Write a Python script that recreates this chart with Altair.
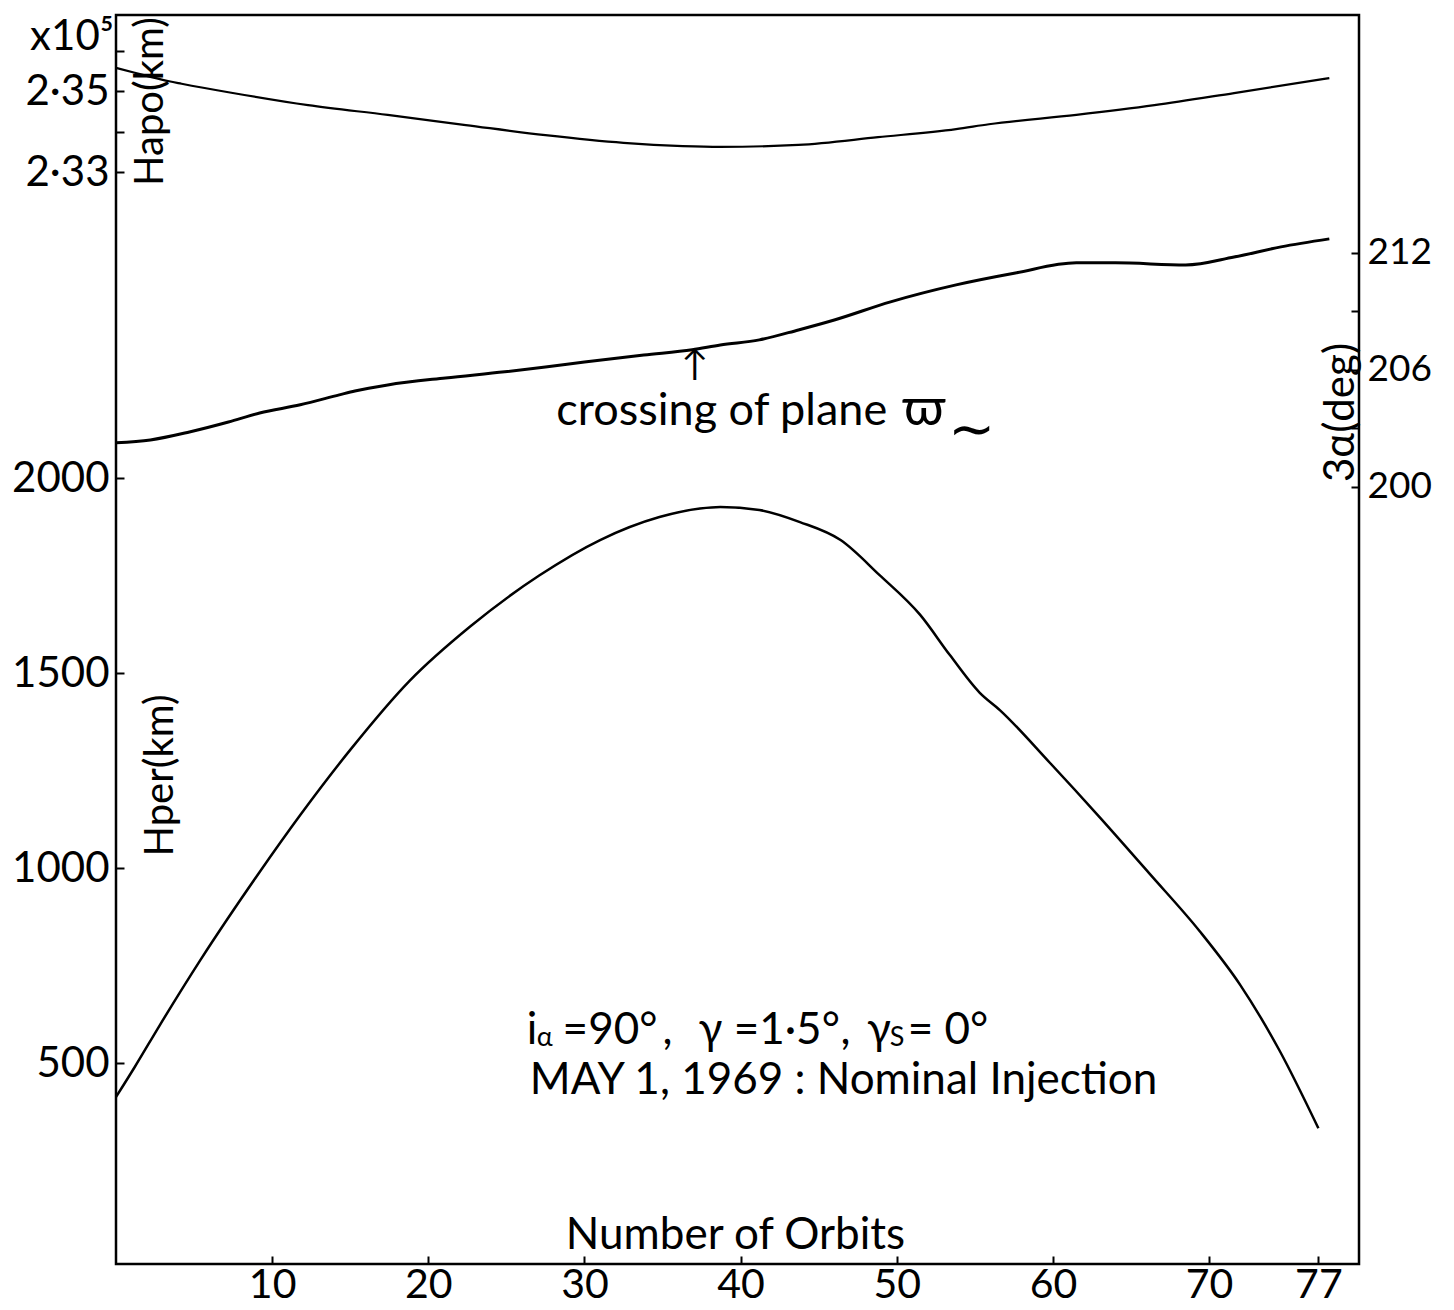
import altair as alt
import pandas as pd

# ---------------- data ----------------
orbits_apo = [0, 1.2, 2.2, 3.4, 4.2, 7.2, 12.3, 17.4, 22.4, 27.5, 32.5, 36.3, 38.7,
              43.7, 48.8, 53.8, 55.9, 61.5, 66.5, 71.6, 77.7]
h_apo = [2.3557, 2.3545, 2.3535, 2.3524, 2.3518, 2.3497, 2.3465, 2.3441, 2.3416,
         2.3391, 2.3372, 2.3364, 2.3362, 2.3367, 2.3386, 2.3406, 2.3418, 2.3441,
         2.3465, 2.3495, 2.3532]

orbits_alpha = [0, 2.2, 4.7, 7.2, 9.2, 11.8, 14.3, 15.3, 17.4, 21.1, 24.9, 27.5, 30.0,
                33.8, 36.9, 38.7, 41.2, 43.7, 46.0, 49.6, 53.8, 57.6, 61.5, 64.0,
                68.5, 71.6, 74.6, 77.7]
alpha_deg = [202.26, 202.41, 202.82, 203.33, 203.79, 204.21, 204.72, 204.92, 205.23,
             205.59, 205.90, 206.15, 206.41, 206.77, 207.03, 207.28, 207.54, 208.05,
             208.56, 209.49, 210.36, 210.97, 211.49, 211.49, 211.38, 211.79, 212.31,
             212.72]

orbits_per = [0, 1.2, 2.8, 5.4, 9.2, 11.8, 15.0, 18.8, 22.7, 27.1, 31.0, 34.8, 37.4,
              38.7, 41.2, 43.8, 46.4, 48.9, 51.5, 53.4, 55.3, 56.6, 59.8, 63.0, 66.2,
              69.4, 72.0, 74.5, 77.0]
h_per = [413, 490, 597, 764, 990, 1136, 1303, 1480, 1620, 1750, 1841, 1900, 1922,
         1926, 1918, 1887, 1841, 1751, 1649, 1546, 1450, 1405, 1270, 1130, 985, 838,
         700, 533, 333]

x_ticks = [10, 20, 30, 40, 50, 60, 70, 77]
per_ticks = [500, 1000, 1500, 2000]
apo_ticks = [2.33, 2.34, 2.35, 2.36]
alpha_ticks = [200, 203, 206, 209, 212]

# annotations (text, orbit, km position on the H_per scale, font size)
ann_text = ["x10⁵", "↑", "crossing of plane", "ϖ", "∼",
            "i", "α", "=90°", ",", "γ =1·5°", ",", "γ", "S", "= 0°",
            "MAY 1, 1969 : Nominal Injection"]
ann_orbit = [-5.5, 36.2, 28.2, 50.3, 53.3,
             26.3, 26.95, 28.6, 35.0, 37.3, 46.4, 48.1, 49.55, 50.7,
             26.5]
ann_km = [3097, 2262, 2136, 2136, 2078,
          550, 544, 550, 550, 550, 550, 550, 544, 550,
          422]
ann_size = [42, 36, 45, 52, 56,
            44, 27, 44, 44, 44, 44, 44, 27, 44,
            44]

# ---------------- chart ----------------
W, H = 1243, 1249
FONT = "Lato, DejaVu Sans"
X_DOM = [0, 79.6]
PER_DOM = [-15, 3187]
APO_DOM = [2.06037, 2.36877]
ALPHA_DOM = [160.15, 224.2]

df_apo = pd.DataFrame({"orbit": orbits_apo, "hapo": h_apo})
df_alpha = pd.DataFrame({"orbit": orbits_alpha, "alpha": alpha_deg})
df_per = pd.DataFrame({"orbit": orbits_per, "hper": h_per})
df_ann = pd.DataFrame({"text": ann_text, "orbit": ann_orbit, "km": ann_km, "fs": ann_size})

common_axis = dict(offset=-8, tickSize=8, tickWidth=2, tickColor="black", domain=False,
                   grid=False, labelFont=FONT, labelColor="black",
                   titleFont=FONT, titleFontSize=40, titleFontWeight="normal",
                   titleColor="black")

x_axis = alt.Axis(orient="bottom", values=x_ticks, labelPadding=1, labelFontSize=41,
                  title="Number of Orbits", titleX=619, titleY=-8,
                  titleAlign="center", titleBaseline="alphabetic",
                  **{**common_axis, "titleFontSize": 44})
x_enc = alt.X("orbit:Q", scale=alt.Scale(domain=X_DOM, nice=False, zero=False),
              axis=x_axis)

per_line = alt.Chart(df_per).mark_line(color="black", strokeWidth=2.5,
                                       interpolate="monotone").encode(
    x=x_enc,
    y=alt.Y("hper:Q", scale=alt.Scale(domain=PER_DOM, nice=False, zero=False),
            axis=alt.Axis(orient="left", values=per_ticks, format="d", labelPadding=7,
                          labelFontSize=42,
                          title="Hper(km)", titleAngle=270, titleX=36, titleY=760,
                          titleAlign="center", titleBaseline="middle", **common_axis)),
)

apo_line = alt.Chart(df_apo).mark_line(color="black", strokeWidth=2.2,
                                       interpolate="monotone").encode(
    x=x_enc,
    y=alt.Y("hapo:Q", scale=alt.Scale(domain=APO_DOM, nice=False, zero=False),
            axis=alt.Axis(orient="left", values=apo_ticks, labelPadding=7,
                          labelFontSize=42,
                          labelExpr="round(datum.value*100)==233 ? '2·33' : (round(datum.value*100)==235 ? '2·35' : '')",
                          title="Hapo(km)", titleAngle=270, titleX=26, titleY=86,
                          titleAlign="center", titleBaseline="middle", **common_axis)),
)

alpha_line = alt.Chart(df_alpha).mark_line(color="black", strokeWidth=3,
                                           interpolate="monotone").encode(
    x=x_enc,
    y=alt.Y("alpha:Q", scale=alt.Scale(domain=ALPHA_DOM, nice=False, zero=False),
            axis=alt.Axis(orient="right", values=alpha_ticks, labelPadding=8,
                          labelFontSize=37,
                          labelExpr="(datum.value==200 || datum.value==206 || datum.value==212) ? datum.label : ''",
                          title="3α(deg)", titleAngle=270, titleX=-11, titleY=397,
                          titleAlign="center", titleBaseline="middle",
                          **{**common_axis, "titleFontSize": 42})),
)

ann = alt.Chart(df_ann).mark_text(align="left", baseline="alphabetic", font=FONT,
                                  color="black").encode(
    x=x_enc,
    y=alt.Y("km:Q", scale=alt.Scale(domain=PER_DOM, nice=False, zero=False), axis=None),
    text="text:N",
    size=alt.Size("fs:Q", scale=None, legend=None),
)

chart = alt.layer(per_line, apo_line, alpha_line, ann).resolve_scale(
    y="independent"
).properties(
    width=W, height=H,
    autosize=alt.AutoSizeParams(type="none"),
    padding={"left": 108, "top": 7, "right": 74, "bottom": 46},
    background="white",
).configure_view(stroke="black", strokeWidth=2.5)

chart.save("out.html", embed_options={"renderer": "svg", "actions": False})
